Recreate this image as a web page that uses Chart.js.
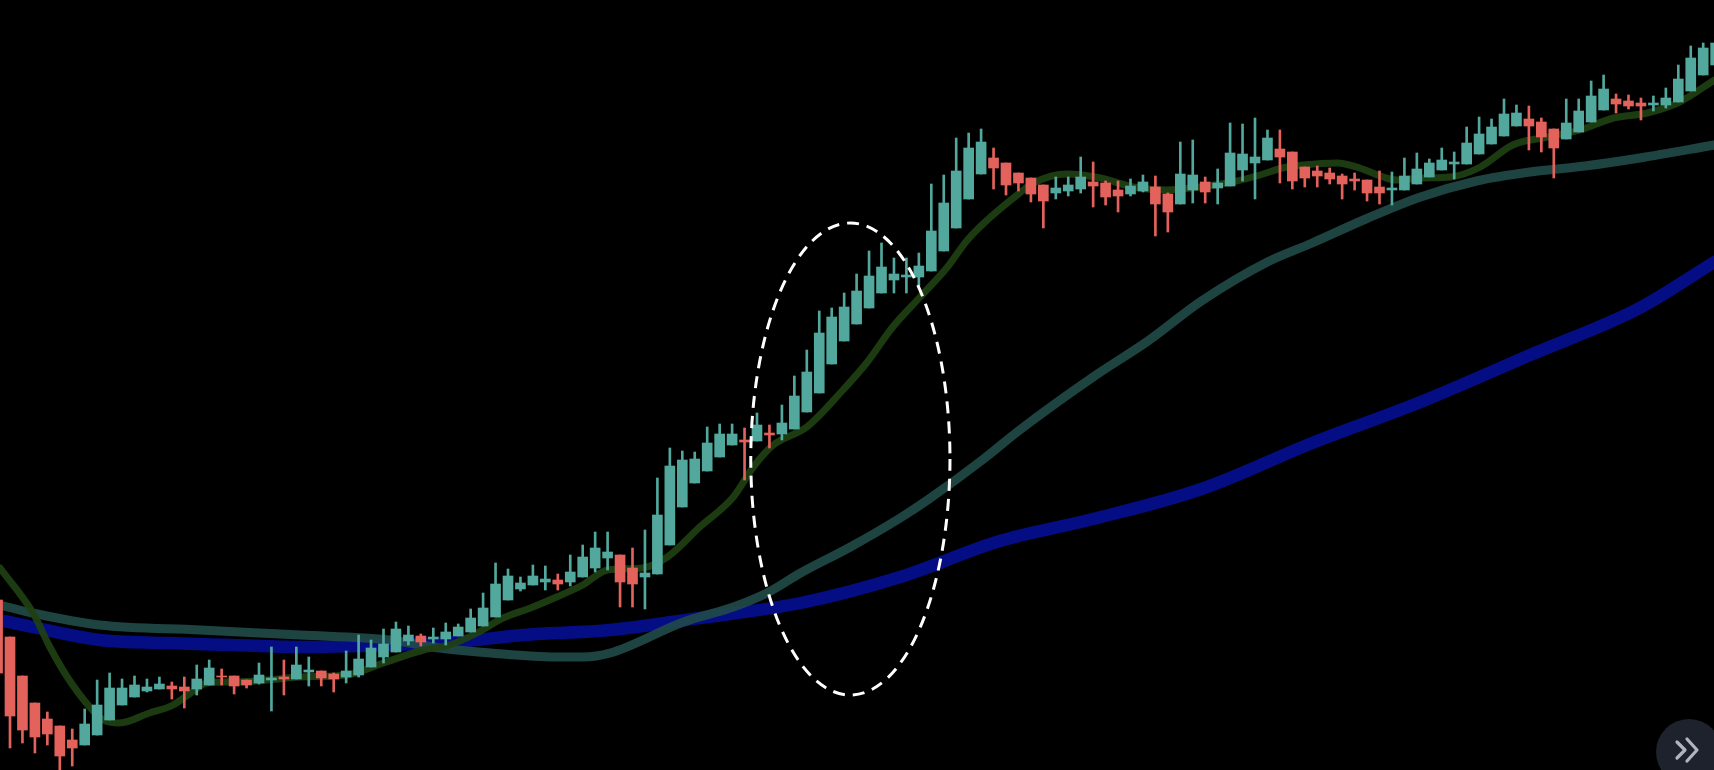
<!DOCTYPE html>
<html>
<head>
<meta charset="utf-8">
<title>Candles</title>
<script src="https://cdn.jsdelivr.net/npm/chart.js@4.4.0/dist/chart.umd.min.js"></script>
<style>
  html, body { margin: 0; padding: 0; background: #000; overflow: hidden; }
  #wrap { position: relative; width: 1714px; height: 770px; }
  #scroll-btn {
    position: absolute; left: 1656px; top: 719px; width: 66px; height: 66px;
    border-radius: 50%; background: #1e222d;
  }
  #scroll-btn svg { position: absolute; left: 18px; top: 16px; }
</style>
</head>
<body>
<div id="wrap">
  <canvas id="chart" width="1714" height="770"></canvas>
  <div id="scroll-btn">
    <svg width="28" height="30" viewBox="0 0 28 30">
      <polyline points="3,7 11,15 3,23" fill="none" stroke="#b2b5be" stroke-width="3.2" stroke-linecap="round" stroke-linejoin="round"/>
      <polyline points="13,4 23,15 13,26" fill="none" stroke="#b2b5be" stroke-width="3.2" stroke-linecap="round" stroke-linejoin="round"/>
    </svg>
  </div>
</div>
<script>
// Bar index of the first candle (the one cut by the left edge).
var FIRST_INDEX = -1;

var opens = [
  170,133,94,67,51,44,30,25,35,50,
  65,73,79,81,84,83,81,85,94,94,
  90,87,90,93,91,98,99,96,93,95,
  103,113,118,129,134,131,131,134,138,144,
  153,170,181,185,188,190,188,193,202,212,
  215,202,193,196,225,263,287,299,313,325,
  330,329,337,336,341,358,377,406,429,446,
  462,477,490,493,493,499,519,542,571,596,
  612,607,597,592,585,577,579,581,588,587,
  580,576,579,583,576,566,580,588,582,584,
  600,607,610,621,618,603,599,597,594,591,
  590,583,580,580,586,593,600,606,606,616,
  626,634,644,651,648,641,631,638,648,660,
  671,669,667,665,665,668,679,695,705
];
var highs = [
  172,133,94,67,58,44,41,61,90,97,
  91,94,91,93,88,93,105,110,101,94,
  90,107,123,110,123,113,99,97,119,135,
  130,141,148,144,136,142,147,146,161,177,
  207,201,193,205,204,196,215,225,238,238,
  215,222,240,292,322,319,318,343,346,346,
  342,357,345,365,394,420,459,462,477,496,
  519,527,512,512,517,586,595,632,637,641,
  622,607,597,592,585,593,593,613,608,589,
  589,591,595,594,577,628,630,593,601,647,
  646,652,640,640,618,603,604,602,596,597,
  590,599,598,612,617,611,622,618,643,653,
  651,671,665,664,652,641,671,671,689,695,
  676,675,672,674,682,705,724,727,734
];
var lows = [
  95,22,27,17,25,0,4,25,35,50,
  65,73,78,81,71,62,75,85,85,76,
  82,86,59,75,91,84,84,78,87,93,
  103,107,118,125,124,127,125,134,138,144,
  153,170,179,185,180,180,184,193,198,200,
  163,163,161,196,225,263,287,299,313,325,
  290,329,322,330,341,358,377,406,429,446,
  462,477,477,477,484,499,519,542,571,596,
  581,575,579,568,542,571,574,577,563,565,
  558,574,578,534,538,566,567,567,566,584,
  589,571,610,587,581,583,583,586,571,580,
  569,566,565,580,586,593,600,591,606,616,
  626,634,644,620,618,592,631,638,648,660,
  657,661,650,659,662,668,679,695,705
];
var closes = [
  97,54,40,33,36,14,22,46,65,82,
  82,85,83,86,81,79,91,102,93,84,
  85,95,92,91,105,100,92,91,99,111,
  122,126,141,135,128,133,138,143,152,162,
  186,194,187,194,191,186,198,213,222,218,
  188,186,197,255,304,310,311,327,336,336,
  328,345,335,347,374,398,437,453,463,479,
  494,503,496,495,504,539,567,599,622,628,
  602,585,587,576,569,582,585,593,584,573,
  574,584,588,566,558,596,595,578,587,617,
  616,613,632,613,589,592,594,591,586,589,
  577,577,582,594,601,607,610,608,627,636,
  643,656,657,644,633,622,647,659,674,681,
  666,664,664,667,672,691,712,722,727
];

// Moving averages, read as [bar index, price].
var maFast = [
  [-0.8,202],[1.85,157],[3.2,123],[4.6,93],[6.4,63],[7.5,50],[8.8,47],[11.2,57],
  [13.1,65],[14.5,77],[15.8,87],[17.9,88],[20.6,90],[23.3,93],[27.1,95],[30,107],
  [33.2,120],[35.3,125],[37.5,137],[39.6,152],[41.8,162],[43.9,173],[46,185],[48,200],
  [50.8,202],[52.8,213],[55.4,243],[58.1,273],[59.7,303],[61.3,325],[64,343],[66.9,380],
  [68.8,407],[70.9,443],[73.1,473],[75.3,503],[76.9,530],[78.5,550],[81.1,577],[82.2,587],
  [84.9,596],[87.6,592],[90.2,583],[92.9,580],[95.6,583],[98.2,588],[100.4,595],[102.2,602],
  [103.9,605],[106.6,607],[108.4,602],[110.3,593],[111.4,590],[113.5,592],[115.7,593],
  [118.1,603],[120.7,625],[123.5,633],[126.1,640],[128.8,652],[131.5,657],[134.1,668],[136.9,690]
];
var maMid = [
  [-0.8,165],[1.8,157],[7.2,145],[15.3,140],[23.3,135],[30.5,130],[34.5,122],[38.6,117],
  [43.9,113],[46,113],[48.2,117],[54.1,148],[58.1,163],[60.8,177],[63.5,197],[67.5,223],
  [71.5,252],[73.7,270],[78.2,311],[81.1,340],[87,393],[91.4,429],[95.7,469],[101,508],
  [104.6,527],[108.9,551],[113.3,573],[117.8,589],[122.1,598],[126.5,604],[130.9,612],[136.9,625]
];
var maSlow = [
  [-0.8,150],[1.8,143],[7.2,130],[12.6,127],[17.9,125],[23.3,123],[30.5,125],[35.9,128],
  [41.2,135],[48.2,140],[55.4,152],[63.5,167],[71.5,193],[79.5,229],[87,251],[95.7,281],
  [104.6,327],[113.3,368],[122.1,415],[130.9,462],[136.9,508]
];

// Dashed highlight: centre bar, centre price, half-width in bars, half-height in price.
var highlight = [67.5, 311, 8.0, 236];

(function () {
    'use strict';

    var UP   = '#52a89c';
    var DOWN = '#e3625b';

    var bodies = [], wicks = [], colors = [];
    for (var i = 0; i < opens.length; i++) {
        var x = FIRST_INDEX + i;
        var o = opens[i], c = closes[i];
        bodies.push({ x: x, y: [o, c] });
        wicks.push({ x: x, y: [Math.min(lows[i], o, c), Math.max(highs[i], o, c)] });
        colors.push(c >= o ? UP : DOWN);
    }

    function pts(list) {
        return list.map(function (p) { return { x: p[0], y: p[1] }; });
    }

    function maLine(list, color, width, order) {
        return {
            type: 'line',
            data: pts(list),
            borderColor: color,
            borderWidth: width,
            pointRadius: 0,
            cubicInterpolationMode: 'monotone',
            borderCapStyle: 'round',
            order: order,
        };
    }

    var ellipsePlugin = {
        id: 'highlightEllipse',
        afterDatasetsDraw: function (chart) {
            var ctx = chart.ctx, xs = chart.scales.x, ys = chart.scales.y;
            var cx = xs.getPixelForValue(highlight[0]);
            var cy = ys.getPixelForValue(highlight[1]);
            var rx = Math.abs(xs.getPixelForValue(highlight[0] + highlight[2]) - cx);
            var ry = Math.abs(ys.getPixelForValue(highlight[1] + highlight[3]) - cy);
            ctx.save();
            ctx.beginPath();
            ctx.ellipse(cx, cy, rx, ry, 0, 0, Math.PI * 2);
            ctx.setLineDash([12, 8]);
            ctx.lineWidth = 3;
            ctx.strokeStyle = '#ffffff';
            ctx.stroke();
            ctx.restore();
        },
    };

    var spacing = 12.45; // px per bar in the reference
    var xMin = -10 / spacing;

    new Chart(document.getElementById('chart').getContext('2d'), {
        type: 'bar',
        data: {
            datasets: [
                maLine(maSlow, 'rgba(6,14,148,0.9)', 12.5, 4),
                maLine(maMid,  'rgba(33,75,73,0.9)', 9, 3),
                maLine(maFast, 'rgba(31,64,18,0.92)', 7, 2),
                {
                    type: 'bar', data: wicks, backgroundColor: colors,
                    barThickness: 2, grouped: false, order: 1,
                },
                {
                    type: 'bar', data: bodies, backgroundColor: colors,
                    barThickness: 10, grouped: false, order: 0,
                },
            ],
        },
        options: {
            responsive: false,
            animation: false,
            events: [],
            layout: { padding: 0 },
            plugins: { legend: { display: false }, tooltip: { enabled: false } },
            scales: {
                x: { type: 'linear', display: false, offset: false, min: xMin, max: xMin + 1714 / spacing },
                y: { type: 'linear', display: false, min: 0, max: 770 },
            },
        },
        plugins: [ellipsePlugin],
    });
}());
</script>
</body>
</html>
